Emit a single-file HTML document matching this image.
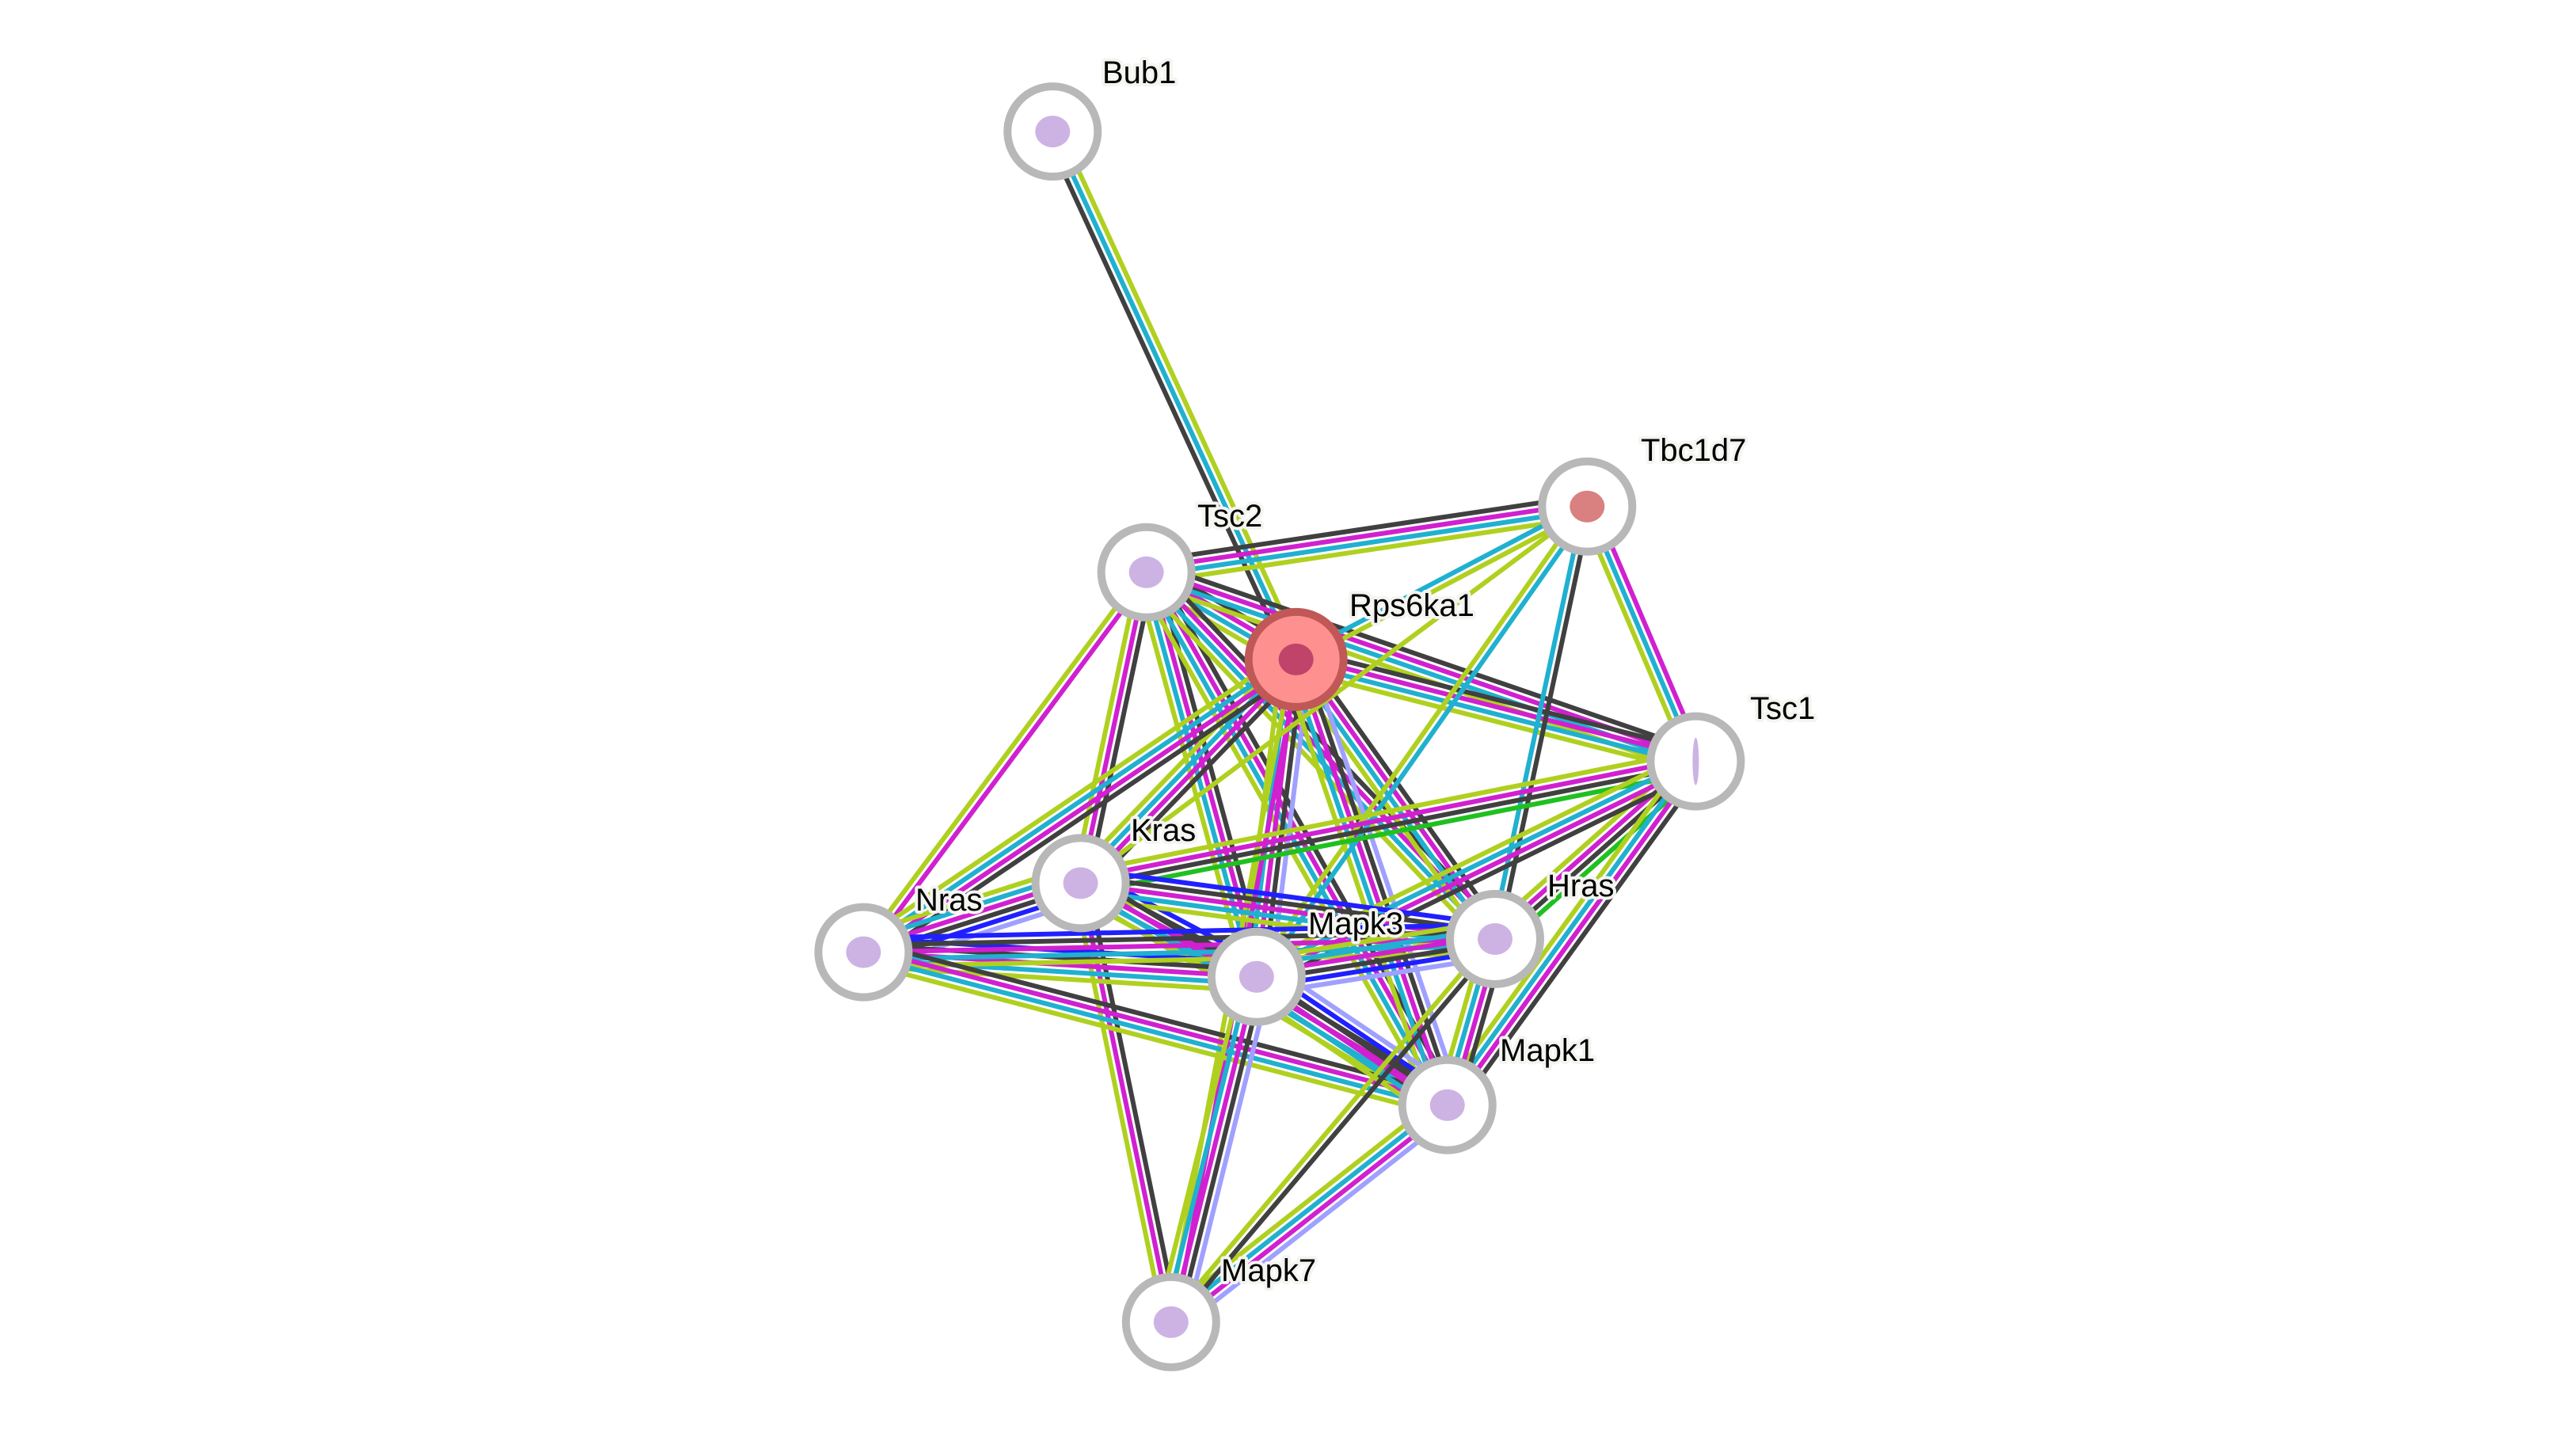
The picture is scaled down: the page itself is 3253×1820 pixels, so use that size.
<!DOCTYPE html>
<html><head><meta charset="utf-8"><style>
html,body{margin:0;padding:0;background:#fff;}
svg{display:block;}
text{font-family:"Liberation Sans",sans-serif;font-size:40px;fill:#000;paint-order:stroke;stroke:#f4f4f0;stroke-width:8px;stroke-linejoin:round;}
</style></head><body>
<svg id="s" width="3253" height="1820" viewBox="0 0 3253 1820" xmlns="http://www.w3.org/2000/svg">
<g id="edges"></g><g id="nodes"></g>
</svg>
<script>
var S=2.077;
var N={
Bub1:[640,80],Tbc1d7:[965,308],Tsc2:[697,348],Rps6ka1:[788,401],Tsc1:[1031,463],
Kras:[657,537],Nras:[525,579],Hras:[909,571],Mapk3:[764,594],Mapk1:[880,672],Mapk7:[712,804]};
var C={k:"#404040",m:"#d020d0",c:"#20b0d0",y:"#b0d020",g:"#20c020",b:"#2020ff",l:"#a0a0ff"};
var E=[
["Bub1","Rps6ka1","ycK"],
["Tsc2","Tbc1d7","kmcy"],["Tsc2","Rps6ka1","kmcy"],["Tsc2","Tsc1","kmcy"],
["Tsc2","Kras","kmy"],["Tsc2","Nras","my"],["Tsc2","Mapk3","kmcy"],["Tsc2","Mapk1","kmcy"],["Tsc2","Hras","kmcy"],
["Rps6ka1","Tbc1d7","cy"],["Rps6ka1","Tsc1","kmcy"],["Rps6ka1","Kras","kmcy"],["Rps6ka1","Nras","kmcy"],
["Rps6ka1","Hras","kmcy"],["Rps6ka1","Mapk3","lkmcy"],["Rps6ka1","Mapk1","lkmcy"],["Rps6ka1","Mapk7","my"],
["Tbc1d7","Tsc1","mcy"],["Tbc1d7","Hras","kc"],["Tbc1d7","Mapk3","cy"],["Tbc1d7","Kras","y"],
["Tsc1","Kras","gkmy"],["Tsc1","Hras","gkmy"],["Tsc1","Mapk3","kmcy"],["Tsc1","Mapk1","kmcy"],
["Kras","Nras","lbkmcy"],["Kras","Mapk3","bkmcy"],["Kras","Hras","bkmcy"],["Kras","Mapk1","kmcy"],["Kras","Mapk7","kmy"],
["Nras","Mapk3","bkmcy"],["Nras","Hras","bkmcy"],["Nras","Mapk1","kmcy"],
["Hras","Mapk3","lbkmcy"],["Hras","Mapk1","kmcy"],["Mapk3","Mapk1","lbkmcy"],["Mapk3","Mapk7","lkmcy"],
["Mapk1","Mapk7","lmcy"],["Hras","Mapk7","ky"]];
var ns="http://www.w3.org/2000/svg",eg=document.getElementById("edges"),ng=document.getElementById("nodes");
E.forEach(function(e){
 var a=N[e[0]],b=N[e[1]],x1=a[0]*S,y1=a[1]*S,x2=b[0]*S,y2=b[1]*S;
 var dx=x2-x1,dy=y2-y1,L=Math.hypot(dx,dy),px=-dy/L,py=dx/L;
 var cs=e[2].toLowerCase().split(""),n=cs.length,sp=9;
 cs.forEach(function(c,i){var o=(i-(n-1)/2)*sp;
  var l=document.createElementNS(ns,"line");
  l.setAttribute("x1",x1+px*o);l.setAttribute("y1",y1+py*o);l.setAttribute("x2",x2+px*o);l.setAttribute("y2",y2+py*o);
  l.setAttribute("stroke",C[c]);l.setAttribute("stroke-width","6");eg.appendChild(l);});
});
var lab={Bub1:[1392,105],Tbc1d7:[2072,582],Tsc2:[1512,665],Rps6ka1:[1704,778],Tsc1:[2210,908],Kras:[1428,1062],Nras:[1156,1150],Hras:[1954,1132],Mapk3:[1652,1180],Mapk1:[1894,1340],Mapk7:[1542,1618]};
for(var k in N){var x=N[k][0]*S,y=N[k][1]*S,red=k=="Rps6ka1";
 var c=document.createElementNS(ns,"circle");c.setAttribute("cx",x);c.setAttribute("cy",y);c.setAttribute("r",red?60:57);
 c.setAttribute("fill",red?"#ff9090":"#fff");c.setAttribute("stroke",red?"#c05858":"#b8b8b8");c.setAttribute("stroke-width","10");ng.appendChild(c);
 var p=document.createElementNS(ns,"ellipse");p.setAttribute("cx",x);p.setAttribute("cy",y);p.setAttribute("rx",k=="Tsc1"?4:22);p.setAttribute("ry",k=="Tsc1"?30:20);
 p.setAttribute("fill",red?"#b03060":(k=="Tbc1d7"?"#d06060":"#c0a0dd"));p.setAttribute("opacity","0.8");ng.appendChild(p);
 var t=document.createElementNS(ns,"text");t.setAttribute("x",lab[k][0]);t.setAttribute("y",lab[k][1]);t.textContent=k;ng.appendChild(t);}
</script>
</body></html>
